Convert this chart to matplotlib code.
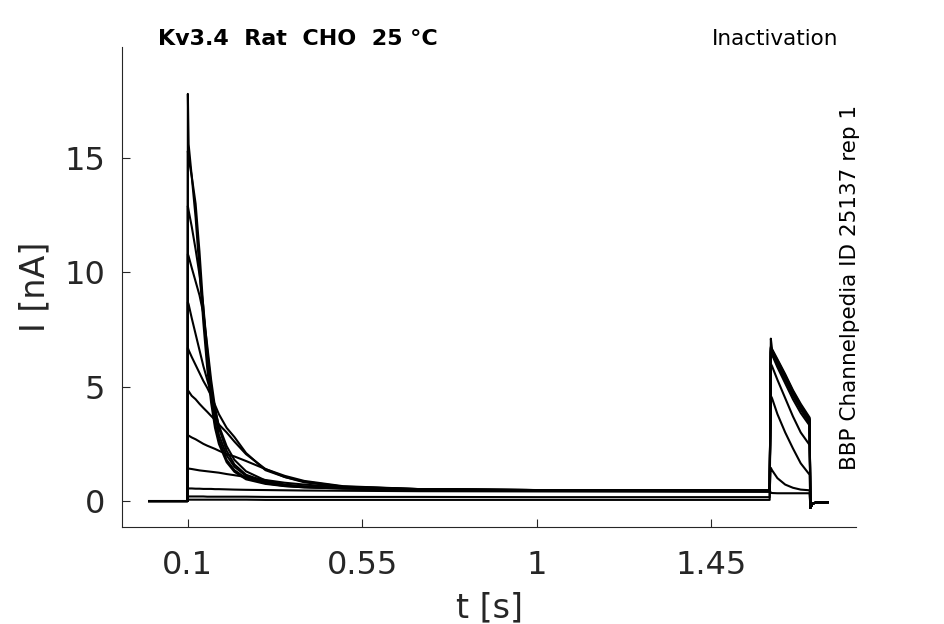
import numpy as np
import matplotlib
matplotlib.use('Agg')
import matplotlib.pyplot as plt


# time points (s) for the prepulse, the test pulse and the tail
t_pulse1 = [0.1, 0.102, 0.11, 0.12, 0.13, 0.14, 0.15, 0.16, 0.17, 0.18, 0.2,
            0.22, 0.25, 0.3, 0.35, 0.4, 0.5, 0.7, 1.0, 1.3, 1.6]
t_pulse2 = [1.603, 1.606, 1.62, 1.64, 1.66, 1.68, 1.703]
t_tail = [1.705, 1.71, 1.72, 1.75]

# current (nA) during the prepulse, one list per sweep
pulse1_a = [17.8, 15.6, 14.2, 12.4, 10.1, 7.8, 5.8, 4.3, 3.2, 2.5, 1.7, 1.28, 0.95, 0.75, 0.65, 0.6, 0.55, 0.5, 0.48, 0.47, 0.47]
pulse1_b = [15.3, 15.0, 14.2, 13.0, 10.9, 8.4, 6.2, 4.6, 3.4, 2.7, 1.8, 1.35, 1.0, 0.78, 0.66, 0.6, 0.55, 0.5, 0.48, 0.46, 0.45]
pulse1_c = [12.9, 12.7, 12.0, 11.0, 9.9, 8.5, 6.6, 5.0, 3.8, 2.9, 2.0, 1.5, 1.1, 0.8, 0.68, 0.62, 0.56, 0.5, 0.47, 0.46, 0.45]
pulse1_d = [10.8, 10.7, 10.2, 9.6, 9.0, 8.2, 6.8, 5.3, 4.1, 3.2, 2.2, 1.6, 1.15, 0.85, 0.7, 0.63, 0.57, 0.5, 0.47, 0.46, 0.45]
pulse1_e = [8.7, 8.6, 8.0, 7.3, 6.6, 5.9, 5.3, 4.7, 4.0, 3.3, 2.4, 1.8, 1.3, 0.9, 0.72, 0.64, 0.58, 0.51, 0.48, 0.46, 0.45]
pulse1_f = [6.7, 6.6, 6.3, 5.95, 5.6, 5.25, 4.95, 4.6, 4.2, 3.8, 3.2, 2.8, 2.1, 1.35, 1.05, 0.82, 0.62, 0.52, 0.48, 0.46, 0.45]
pulse1_g = [4.85, 4.8, 4.6, 4.45, 4.25, 4.07, 3.9, 3.72, 3.55, 3.35, 3.0, 2.6, 2.05, 1.4, 1.05, 0.85, 0.63, 0.52, 0.48, 0.46, 0.45]
pulse1_h = [2.89, 2.86, 2.78, 2.7, 2.6, 2.5, 2.42, 2.35, 2.28, 2.2, 2.05, 1.95, 1.75, 1.4, 1.1, 0.88, 0.65, 0.52, 0.48, 0.46, 0.45]
pulse1_i = [1.43, 1.42, 1.4, 1.37, 1.34, 1.32, 1.3, 1.28, 1.26, 1.24, 1.18, 1.13, 1.05, 0.92, 0.8, 0.72, 0.6, 0.5, 0.46, 0.44, 0.43]
pulse1_j = [0.55, 0.55, 0.55, 0.54, 0.54, 0.53, 0.53, 0.53, 0.52, 0.52, 0.51, 0.5, 0.49, 0.48, 0.47, 0.46, 0.45, 0.43, 0.42, 0.41, 0.4]
pulse1_k = [0.2, 0.2, 0.2, 0.2, 0.2, 0.2, 0.19, 0.19, 0.19, 0.19, 0.19, 0.19, 0.19, 0.18, 0.18, 0.18, 0.18, 0.18, 0.17, 0.17, 0.17]
pulse1_l = [0.06, 0.06, 0.06, 0.06, 0.06, 0.06, 0.06, 0.06, 0.06, 0.06, 0.06, 0.06, 0.06, 0.05, 0.05, 0.05, 0.05, 0.05, 0.05, 0.05, 0.05]

# current (nA) during the test pulse
pulse2_a = [0.36, 0.35, 0.34, 0.34, 0.34, 0.34, 0.34]
pulse2_b = [1.45, 1.35, 1.0, 0.72, 0.58, 0.5, 0.47]
pulse2_c = [4.6, 4.5, 3.8, 3.0, 2.3, 1.65, 1.15]
pulse2_d = [6.0, 5.9, 5.3, 4.5, 3.7, 3.0, 2.45]
pulse2_e = [6.5, 6.4, 5.85, 5.15, 4.45, 3.85, 3.3]
pulse2_f = [6.55, 6.45, 5.95, 5.3, 4.6, 4.0, 3.4]
pulse2_g = [6.6, 6.5, 6.0, 5.35, 4.65, 4.05, 3.45]
pulse2_h = [6.65, 6.55, 6.05, 5.4, 4.7, 4.1, 3.5]
pulse2_i = [6.7, 6.6, 6.1, 5.45, 4.75, 4.15, 3.55]
pulse2_j = [6.7, 6.6, 6.1, 5.45, 4.75, 4.15, 3.55]
pulse2_k = [6.75, 6.6, 6.15, 5.5, 4.8, 4.2, 3.6]
pulse2_l = [7.1, 6.65, 6.2, 5.55, 4.85, 4.25, 3.65]

# current (nA) after the test pulse
tail_vals = [-0.3, -0.12, -0.06, -0.05]

pulse1_all = [pulse1_a, pulse1_b, pulse1_c, pulse1_d, pulse1_e, pulse1_f,
              pulse1_g, pulse1_h, pulse1_i, pulse1_j, pulse1_k, pulse1_l]
pulse2_all = [pulse2_a, pulse2_b, pulse2_c, pulse2_d, pulse2_e, pulse2_f,
              pulse2_g, pulse2_h, pulse2_i, pulse2_j, pulse2_k, pulse2_l]

fig = plt.figure(figsize=(9.45, 6.24), dpi=100)
ax = fig.add_axes([0.129, 0.156, 0.777, 0.769])

for p1, p2 in zip(pulse1_all, pulse2_all):
    t = [0.0, 0.0995] + t_pulse1 + t_pulse2 + t_tail
    i = [0.0, 0.0] + p1 + p2 + tail_vals
    ax.plot(t, i, color='black', lw=1.5)

ax.set_xlim(-0.07, 1.823)
ax.set_ylim(-1.12, 19.86)
ax.set_xticks([0.1, 0.55, 1, 1.45])
ax.set_xticklabels(['0.1', '0.55', '1', '1.45'])
ax.set_yticks([0, 5, 10, 15])
ax.tick_params(direction='in', labelsize=23, colors='#262626', length=6, width=0.8)
ax.tick_params(axis='x', pad=17)
ax.tick_params(axis='y', pad=12)
for side in ['top', 'right']:
    ax.spines[side].set_visible(False)
for side in ['left', 'bottom']:
    ax.spines[side].set_color('#262626')
    ax.spines[side].set_linewidth(0.8)

ax.set_xlabel('t [s]', fontsize=24, color='#262626', labelpad=7)
ax.set_ylabel('I [nA]', fontsize=24, color='#262626', labelpad=9)

fig.text(0.167, 0.937, 'Kv3.4  Rat  CHO  25 °C', fontsize=16, fontweight='bold', va='center')
fig.text(0.887, 0.937, 'Inactivation', fontsize=15.5, ha='right', va='center')
fig.text(0.899, 0.539, 'BBP Channelpedia ID 25137 rep 1', fontsize=15.5,
         rotation=90, ha='center', va='center')

plt.savefig('out.png', dpi=100)
